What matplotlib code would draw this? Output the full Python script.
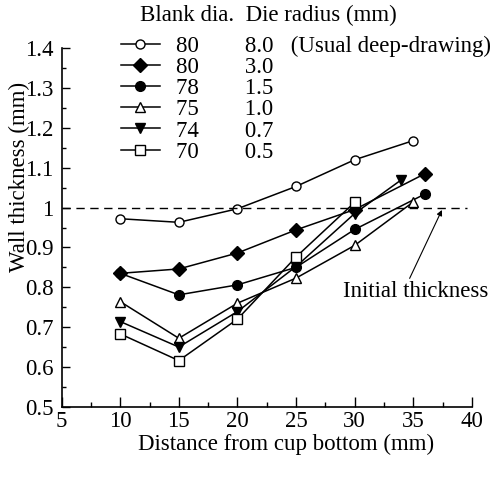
import matplotlib
matplotlib.use('Agg')
import matplotlib.pyplot as plt
from matplotlib.ticker import MultipleLocator

plt.rcParams['font.family'] = ['Liberation Serif', 'DejaVu Serif']
plt.rcParams['font.size'] = 16.5

# Blank diameter / die radius for each series
blank_dia = ['80', '80', '78', '75', '74', '70']
die_radius = ['8.0', '3.0', '1.5', '1.0', '0.7', '0.5']

# Wall thickness (mm) vs distance from cup bottom (mm)
x_r80 = [10, 15, 20, 25, 30, 35]
y_r80 = [0.972, 0.963, 0.997, 1.053, 1.120, 1.168]
x_r30 = [10, 15, 20, 25, 30, 36]
y_r30 = [0.835, 0.846, 0.886, 0.944, 0.995, 1.085]
x_r15 = [10, 15, 20, 25, 30, 36]
y_r15 = [0.835, 0.781, 0.806, 0.850, 0.945, 1.034]
x_r10 = [10, 15, 20, 25, 30, 35]
y_r10 = [0.764, 0.672, 0.760, 0.823, 0.905, 1.014]
x_r07 = [10, 15, 20, 25, 30, 34]
y_r07 = [0.714, 0.650, 0.739, 0.852, 0.985, 1.070]
x_r05 = [10, 15, 20, 25, 30]
y_r05 = [0.683, 0.616, 0.720, 0.876, 1.013]

initial_thickness = 1.0

fig = plt.figure(figsize=(4.93, 4.82), dpi=100)
ax = fig.add_axes([0.125, 0.156, 0.832, 0.744])

series = [
    (x_r80, y_r80, dict(marker='o', mfc='white', ms=6.5)),
    (x_r30, y_r30, dict(marker='D', mfc='black', ms=7)),
    (x_r15, y_r15, dict(marker='o', mfc='black', ms=7)),
    (x_r10, y_r10, dict(marker='^', mfc='white', ms=7.5)),
    (x_r07, y_r07, dict(marker='v', mfc='black', ms=7.5)),
    (x_r05, y_r05, dict(marker='s', mfc='white', ms=7)),
]

handles = []
for (xs, ys, st), bd, r in zip(series, blank_dia, die_radius):
    ln, = ax.plot(xs, ys, color='black', lw=1.1, mec='black', mew=1.0, **st)
    handles.append(ln)

labels = [f'{bd}        {r}' for bd, r in zip(blank_dia, die_radius)]
labels[0] += '   (Usual deep-drawing)'

# dashed line for the initial sheet thickness
ax.plot([5, 39.6], [initial_thickness, initial_thickness], color='black',
        lw=1.0, dashes=(6, 4))

ax.annotate('Initial thickness', xy=(37.45, 0.994), xytext=(29.0, 0.789),
            va='center', ha='left', annotation_clip=False,
            arrowprops=dict(arrowstyle='-|>', color='black', lw=0.8,
                            mutation_scale=8, shrinkA=0, shrinkB=0,
                            relpos=(0.45, 1.0)))

leg = fig.legend(handles, labels, loc='upper left', bbox_to_anchor=(0.245, 0.925),
                 frameon=False, handlelength=1.7, handletextpad=0.7,
                 labelspacing=0.0, borderaxespad=0, borderpad=0)
fig.text(0.284, 0.968, 'Blank dia.  Die radius (mm)', ha='left', va='center')

ax.set_xlim(5, 40)
ax.set_ylim(0.5, 1.4)
ax.xaxis.set_major_locator(MultipleLocator(5))
ax.xaxis.set_minor_locator(MultipleLocator(2.5))
ax.yaxis.set_major_locator(MultipleLocator(0.1))
ax.yaxis.set_minor_locator(MultipleLocator(0.05))
ax.set_yticklabels([f'{v:g}' for v in ax.get_yticks()])
ax.tick_params(which='both', direction='in', width=1.0)
ax.tick_params(axis='x', which='major', length=7, pad=3)
ax.tick_params(axis='x', which='minor', length=3.5)
ax.tick_params(axis='y', which='major', length=6, pad=6)
ax.tick_params(axis='y', which='minor', length=3)
ax.spines['top'].set_visible(False)
ax.spines['right'].set_visible(False)
ax.spines['left'].set_linewidth(1.2)
ax.spines['bottom'].set_linewidth(1.2)

ax.set_xlabel('Distance from cup bottom (mm)')
ax.set_ylabel('Wall thickness (mm)')
ax.xaxis.set_label_coords(0.547, -0.075)
ax.yaxis.set_label_coords(-0.078, 0.64)

fig.savefig('out.png', dpi=100)
